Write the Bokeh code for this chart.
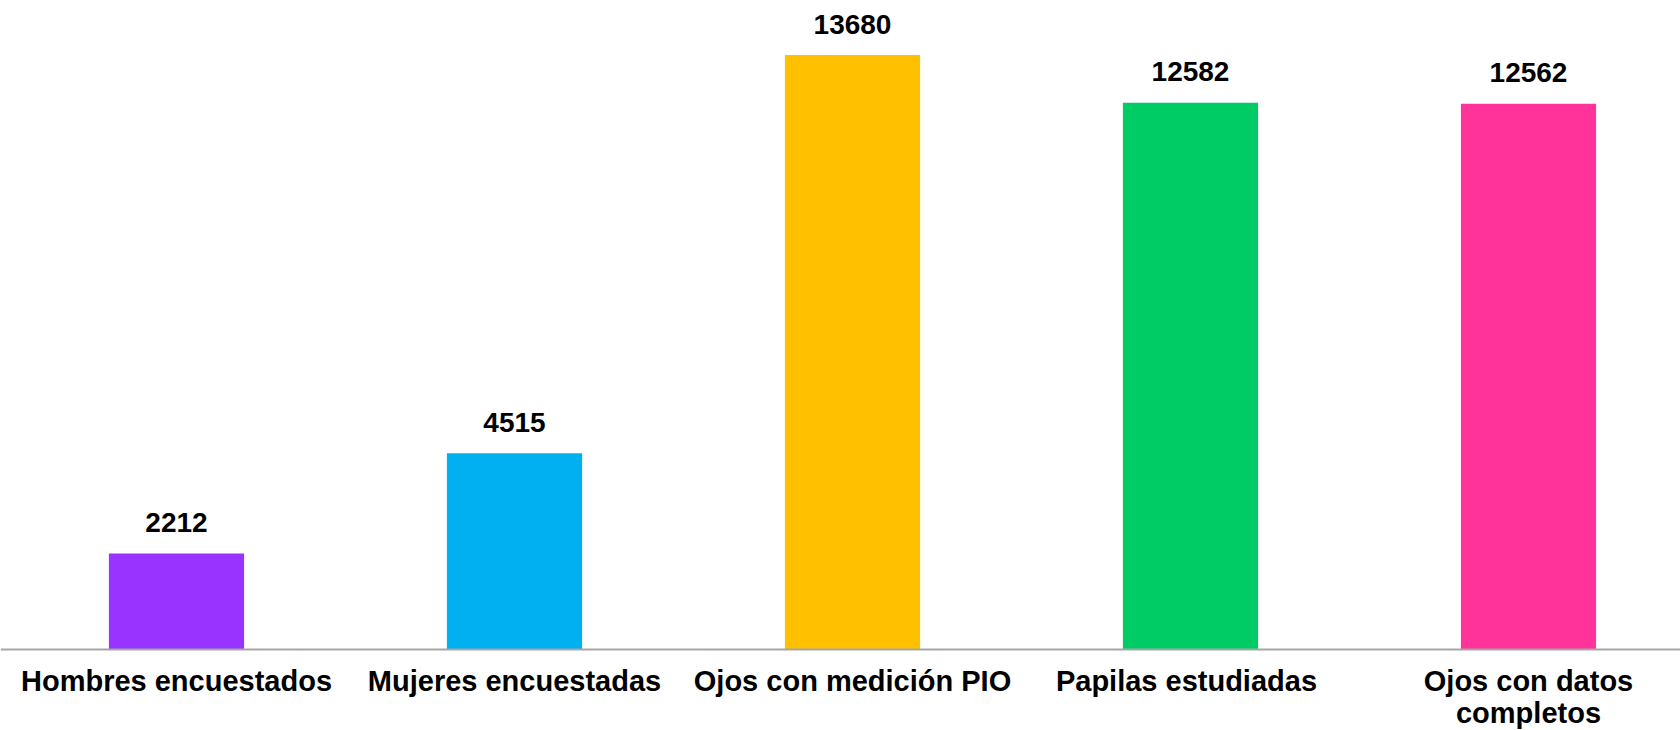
from bokeh.plotting import figure
from bokeh.models import Range1d, ColumnDataSource, Span
from bokeh.core.properties import value
from bokeh.embed import file_html
from bokeh.resources import INLINE

categories = ["Hombres encuestados", "Mujeres encuestadas", "Ojos con medición PIO",
              "Papilas  estudiadas", "Ojos con datos\ncompletos"]
counts = [2212, 4515, 13680, 12582, 12562]
colors = ["#9933FF", "#00B0F0", "#FFC000", "#00CC66", "#FF3399"]

xs = [i + 0.5 for i in range(len(categories))]
src = ColumnDataSource(dict(x=xs, top=counts, color=colors,
                            label=[str(v) for v in counts],
                            cat=categories, zero=[0] * len(counts)))

p = figure(width=1680, height=730, output_backend="svg", toolbar_location=None,
           x_range=Range1d(-0.0207, 4.9497), y_range=Range1d(-1864, 14936),
           x_axis_location=None, y_axis_location=None,
           min_border_left=0, min_border_right=0,
           min_border_top=0, min_border_bottom=0)
p.outline_line_color = None
p.xgrid.visible = False
p.ygrid.visible = False

p.vbar(x="x", top="top", width=0.4, bottom=0, color="color", line_color=None, source=src)

# baseline (category axis line)
p.add_layout(Span(location=0, dimension="width", line_color="#A6A6A6", line_width=2))

# value labels
p.text(x="x", y="top", text="label", source=src, text_align="center",
       text_baseline="alphabetic", y_offset=-31,
       text_font=value("Liberation Sans"), text_font_style="bold",
       text_font_size="28px", text_color="black")

# category labels
p.text(x="x", y="zero", text="cat", source=src, text_align="center",
       text_baseline="top", y_offset=15, text_line_height=1.0,
       text_font=value("Liberation Sans"), text_font_style="bold",
       text_font_size="29px", text_color="black")

open("out.html", "w").write(file_html(p, INLINE))
